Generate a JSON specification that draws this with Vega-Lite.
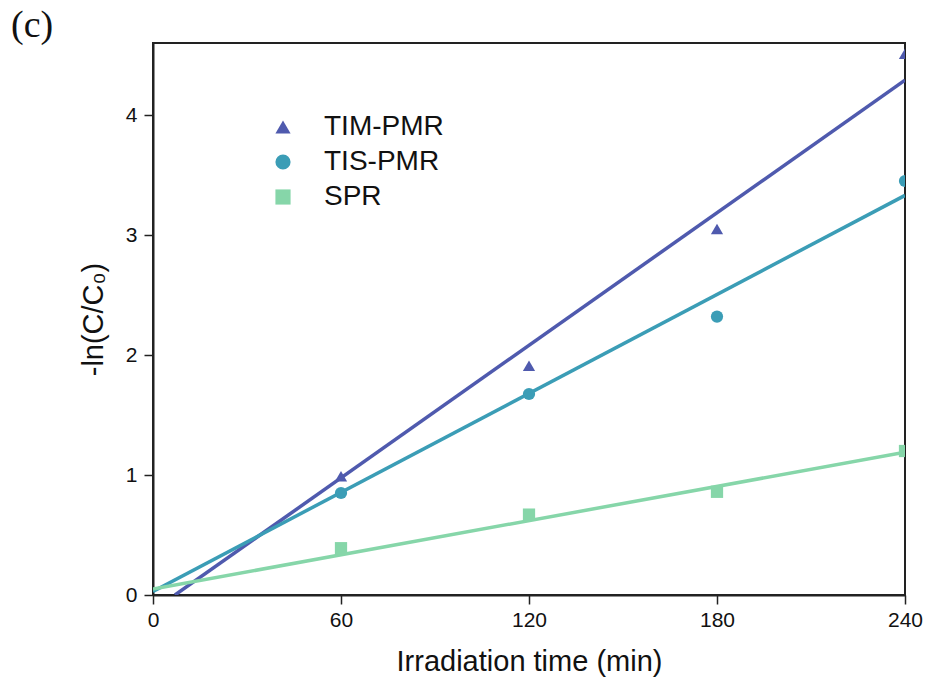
{
  "$schema": "https://vega.github.io/schema/vega-lite/v6.json",
  "width": 752,
  "height": 552,
  "autosize": {"type": "none"},
  "padding": {"left": 153, "top": 43, "right": 27, "bottom": 93},
  "background": "white",
  "title": {"text": "(c)", "anchor": "start", "frame": "group", "dx": -142, "offset": -2, "font": "Liberation Serif", "fontSize": 38, "fontWeight": "normal", "color": "#111"},
  "config": {
    "view": {"stroke": "#222", "strokeWidth": 2},
    "axis": {"grid": false, "domainColor": "#222", "domainWidth": 2, "tickColor": "#222", "tickWidth": 1.5, "tickSize": 9, "labelFont": "Liberation Sans", "labelFontSize": 21, "labelColor": "#111", "labelFlush": false, "titleFont": "Liberation Sans", "titleFontSize": 29, "titleFontWeight": "normal", "titleColor": "#111"},
    "legend": {"labelFont": "Liberation Sans", "labelFontSize": 28, "labelColor": "#111"}
  },
  "datasets": {
    "obs": [
      {"series": "TIM-PMR", "t": 60, "y": 0.99},
      {"series": "TIM-PMR", "t": 120, "y": 1.91},
      {"series": "TIM-PMR", "t": 180, "y": 3.05},
      {"series": "TIM-PMR", "t": 240, "y": 4.51},
      {"series": "TIS-PMR", "t": 60, "y": 0.85},
      {"series": "TIS-PMR", "t": 120, "y": 1.675},
      {"series": "TIS-PMR", "t": 180, "y": 2.32},
      {"series": "TIS-PMR", "t": 240, "y": 3.45},
      {"series": "SPR", "t": 60, "y": 0.39},
      {"series": "SPR", "t": 120, "y": 0.67},
      {"series": "SPR", "t": 180, "y": 0.86},
      {"series": "SPR", "t": 240, "y": 1.2}
    ],
    "fits": [
      {"series": "TIM-PMR", "t": 7, "y": 0},
      {"series": "TIM-PMR", "t": 240, "y": 4.29},
      {"series": "TIS-PMR", "t": 0, "y": 0.03},
      {"series": "TIS-PMR", "t": 240, "y": 3.33},
      {"series": "SPR", "t": 0, "y": 0.05},
      {"series": "SPR", "t": 240, "y": 1.19}
    ]
  },
  "layer": [
    {
      "data": {"name": "fits"},
      "mark": {"type": "line", "strokeWidth": 3.5, "clip": true},
      "encoding": {
        "x": {"field": "t", "type": "quantitative", "scale": {"domain": [0, 240], "nice": false}, "axis": {"values": [0, 60, 120, 180, 240], "title": "Irradiation time (min)", "titlePadding": 17, "labelPadding": 5}},
        "y": {"field": "y", "type": "quantitative", "scale": {"domain": [0, 4.6], "nice": false}, "axis": {"values": [0, 1, 2, 3, 4], "format": "d", "title": "-ln(C/C₀)", "titlePadding": 17, "labelPadding": 7}},
        "color": {"field": "series", "type": "nominal", "scale": {"domain": ["TIM-PMR", "TIS-PMR", "SPR"], "range": ["#4F5AAE", "#3B9DB6", "#86D6A9"]}}
      }
    },
    {
      "data": {"name": "obs"},
      "mark": {"type": "point", "filled": true, "opacity": 1, "size": 150, "clip": true},
      "encoding": {
        "x": {"field": "t", "type": "quantitative"},
        "y": {"field": "y", "type": "quantitative"},
        "color": {"field": "series", "type": "nominal", "legend": {"title": null, "orient": "none", "legendX": 116, "legendY": 70, "symbolSize": 230, "rowPadding": 7, "labelOffset": 27, "symbolOpacity": 1, "symbolStrokeWidth": 0}},
        "shape": {"field": "series", "type": "nominal", "scale": {"domain": ["TIM-PMR", "TIS-PMR", "SPR"], "range": ["triangle-up", "circle", "square"]}, "legend": {"title": null, "orient": "none", "legendX": 116, "legendY": 70, "symbolSize": 230, "rowPadding": 7, "labelOffset": 27, "symbolOpacity": 1, "symbolStrokeWidth": 0}}
      }
    }
  ]
}
